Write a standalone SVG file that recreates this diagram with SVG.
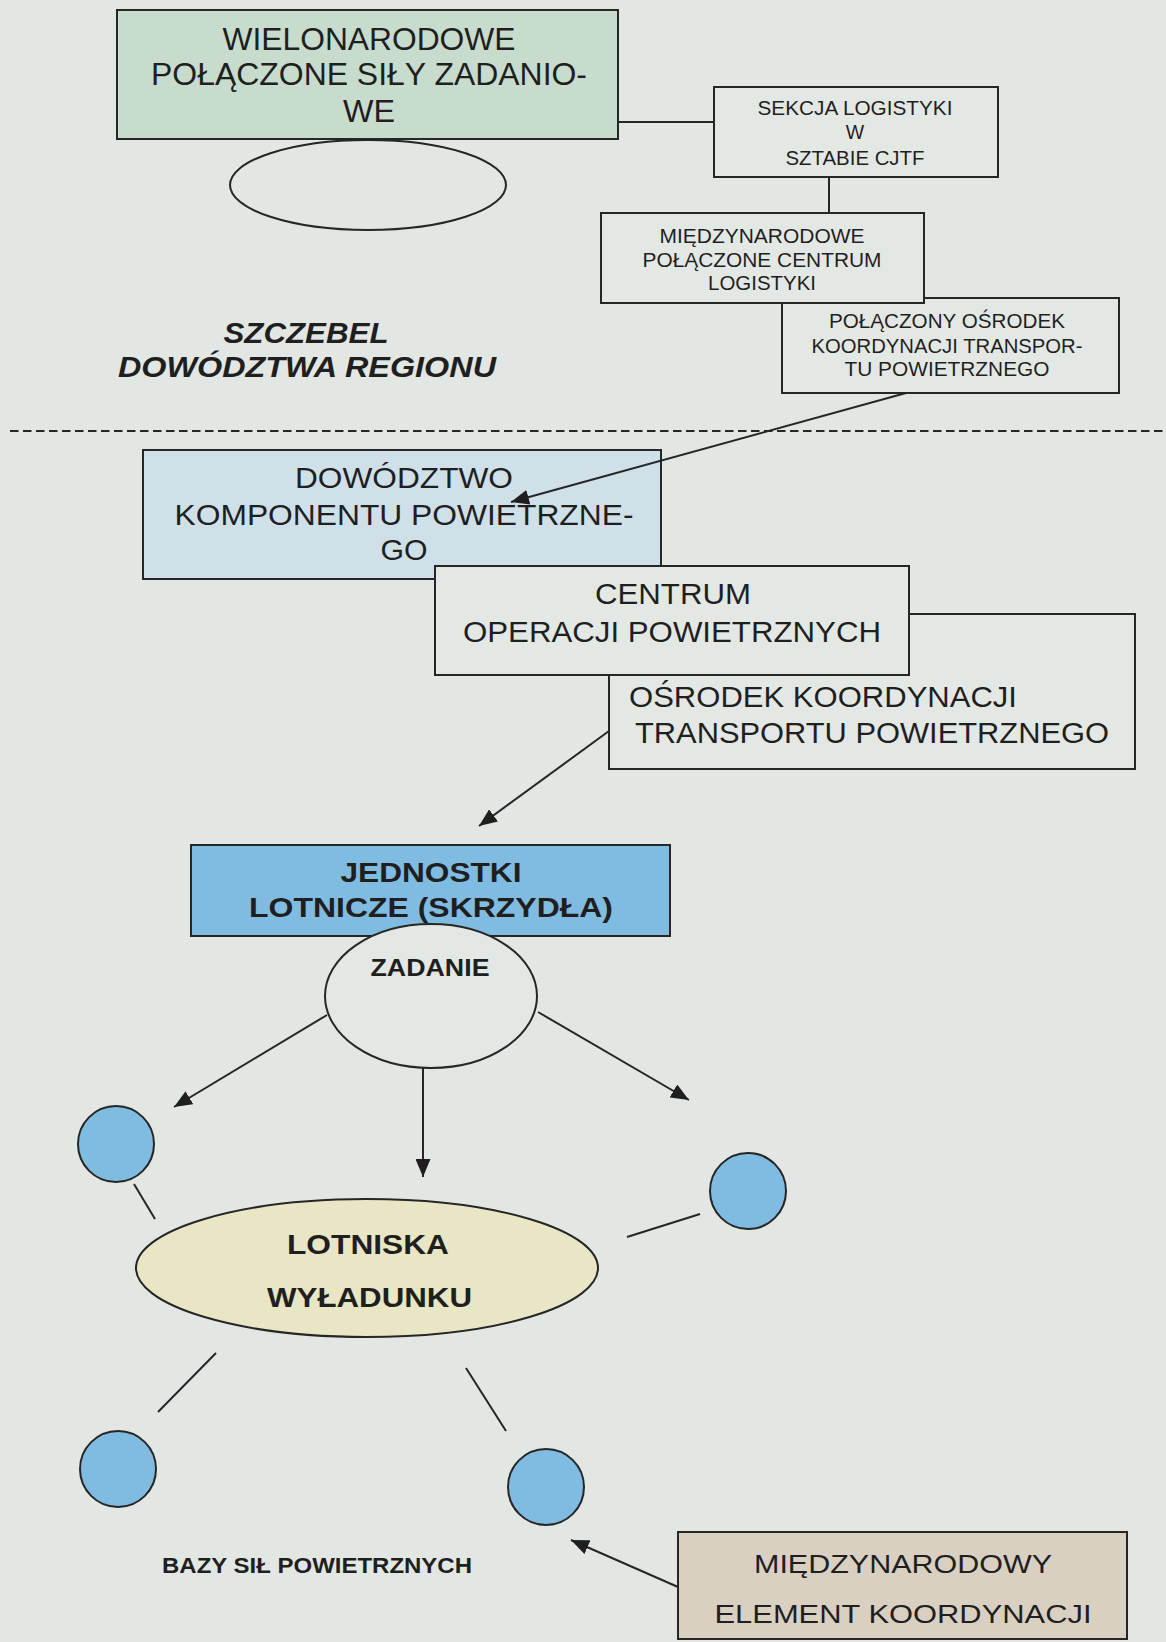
<svg xmlns="http://www.w3.org/2000/svg" width="1166" height="1642" viewBox="0 0 1166 1642">
  <defs>
    <style>
      .page { fill: #e3e7e4; }
      .box { fill: #e4e8e5; stroke: #262626; stroke-width: 2; }
      .green { fill: #c8dccd; }
      .paleblue { fill: #cfe0e9; }
      .blue { fill: #80bce1; }
      .yellow { fill: #e8e6c4; }
      .tan { fill: #d9d0c2; }
      .link { stroke: #262626; stroke-width: 2; fill: none; }
      .t { font-family: "Liberation Sans", Arial, sans-serif; fill: #1f1f1f; text-anchor: middle; }
      .ts { font-family: "Liberation Sans", Arial, sans-serif; fill: #1f1f1f; text-anchor: start; }
      .b { font-weight: bold; }
      .bi { font-weight: bold; font-style: italic; }
    </style>
    <marker id="arrow" markerUnits="userSpaceOnUse" markerWidth="18" markerHeight="15" refX="18" refY="7.5" orient="auto">
      <path d="M0,0 L18,7.5 L0,15 Z" fill="#1f1f1f"/>
    </marker>
  </defs>

  <!-- paper -->
  <rect class="page" x="0" y="0" width="1166" height="1642"/>

  <!-- boundary between command levels -->
  <line id="level-divider" x1="10" y1="431" x2="1166" y2="431" stroke="#262626" stroke-width="2" stroke-dasharray="8.5 4.5"/>

  <g id="label-region-level">
    <text class="t bi" x="306" y="343" font-size="29" textLength="165" lengthAdjust="spacingAndGlyphs">SZCZEBEL</text>
    <text class="t bi" x="307" y="377" font-size="29" textLength="378" lengthAdjust="spacingAndGlyphs">DOWÓDZTWA REGIONU</text>
  </g>

  <!-- nodes -->
  <g id="node-cjtf">
    <rect class="box green" x="117" y="10" width="501" height="129"/>
    <text class="t" x="369" y="50" font-size="32" textLength="293" lengthAdjust="spacingAndGlyphs">WIELONARODOWE</text>
    <text class="t" x="369" y="85" font-size="32" textLength="436" lengthAdjust="spacingAndGlyphs">POŁĄCZONE SIŁY ZADANIO-</text>
    <text class="t" x="369" y="122" font-size="32" textLength="52" lengthAdjust="spacingAndGlyphs">WE</text>
  </g>

  <g id="node-cjtf-ellipse">
    <ellipse cx="368" cy="185" rx="138" ry="45" fill="none" stroke="#262626" stroke-width="2"/>
  </g>

  <g id="node-logistics-section">
    <rect class="box" x="714" y="87" width="284" height="90"/>
    <text class="t" x="855" y="115" font-size="19.5" textLength="195" lengthAdjust="spacingAndGlyphs">SEKCJA LOGISTYKI</text>
    <text class="t" x="855" y="139" font-size="19.5">W</text>
    <text class="t" x="855" y="165" font-size="19.5" textLength="139" lengthAdjust="spacingAndGlyphs">SZTABIE CJTF</text>
  </g>

  <g id="node-jaccc">
    <rect class="box" x="782" y="298" width="337" height="95"/>
    <text class="t" x="947" y="328" font-size="20" textLength="236" lengthAdjust="spacingAndGlyphs">POŁĄCZONY OŚRODEK</text>
    <text class="t" x="947" y="353" font-size="20" textLength="271" lengthAdjust="spacingAndGlyphs">KOORDYNACJI TRANSPOR-</text>
    <text class="t" x="947" y="376" font-size="20" textLength="205" lengthAdjust="spacingAndGlyphs">TU POWIETRZNEGO</text>
  </g>

  <g id="node-mjlc">
    <rect class="box" x="601" y="213" width="323" height="90"/>
    <text class="t" x="762" y="243" font-size="20" textLength="205" lengthAdjust="spacingAndGlyphs">MIĘDZYNARODOWE</text>
    <text class="t" x="762" y="267" font-size="20" textLength="239" lengthAdjust="spacingAndGlyphs">POŁĄCZONE CENTRUM</text>
    <text class="t" x="762" y="290" font-size="20" textLength="108" lengthAdjust="spacingAndGlyphs">LOGISTYKI</text>
  </g>

  <g id="node-air-component">
    <rect class="box paleblue" x="143" y="450" width="518" height="129"/>
    <text class="t" x="404" y="488" font-size="30" textLength="218" lengthAdjust="spacingAndGlyphs">DOWÓDZTWO</text>
    <text class="t" x="404" y="525" font-size="30" textLength="459" lengthAdjust="spacingAndGlyphs">KOMPONENTU POWIETRZNE-</text>
    <text class="t" x="404" y="560" font-size="30" textLength="47" lengthAdjust="spacingAndGlyphs">GO</text>
  </g>

  <g id="node-airlift-coordination">
    <rect class="box" x="609" y="614" width="526" height="155"/>
    <text class="ts" x="629" y="707" font-size="30" textLength="388" lengthAdjust="spacingAndGlyphs">OŚRODEK KOORDYNACJI</text>
    <text class="ts" x="635" y="743" font-size="30" textLength="474" lengthAdjust="spacingAndGlyphs">TRANSPORTU POWIETRZNEGO</text>
  </g>

  <g id="node-air-operations">
    <rect class="box" x="435" y="566" width="474" height="109"/>
    <text class="t" x="673" y="604" font-size="30" textLength="156" lengthAdjust="spacingAndGlyphs">CENTRUM</text>
    <text class="t" x="672" y="642" font-size="30" textLength="418" lengthAdjust="spacingAndGlyphs">OPERACJI POWIETRZNYCH</text>
  </g>

  <g id="node-wings">
    <rect class="box blue" x="191" y="845" width="479" height="91"/>
    <text class="t b" x="431" y="882" font-size="28" textLength="181" lengthAdjust="spacingAndGlyphs">JEDNOSTKI</text>
    <text class="t b" x="431" y="917" font-size="28" textLength="364" lengthAdjust="spacingAndGlyphs">LOTNICZE (SKRZYDŁA)</text>
  </g>

  <g id="node-task">
    <ellipse class="box" cx="431" cy="996" rx="106" ry="72"/>
    <text class="t b" x="430" y="976" font-size="23" textLength="119" lengthAdjust="spacingAndGlyphs">ZADANIE</text>
  </g>

  <g id="node-base-1">
    <circle class="box blue" cx="116" cy="1144" r="38"/>
  </g>
  <g id="node-base-2">
    <circle class="box blue" cx="748" cy="1191" r="38"/>
  </g>

  <g id="node-offload-airfields">
    <ellipse class="box yellow" cx="367" cy="1268" rx="231" ry="69"/>
    <text class="t b" x="368" y="1254" font-size="27" textLength="162" lengthAdjust="spacingAndGlyphs">LOTNISKA</text>
    <text class="t b" x="369.5" y="1307" font-size="27" textLength="205" lengthAdjust="spacingAndGlyphs">WYŁADUNKU</text>
  </g>

  <g id="node-base-3">
    <circle class="box blue" cx="118" cy="1469" r="38"/>
  </g>
  <g id="node-base-4">
    <circle class="box blue" cx="546" cy="1487" r="38"/>
  </g>

  <g id="label-bases">
    <text class="t b" x="317" y="1573" font-size="22" textLength="310" lengthAdjust="spacingAndGlyphs">BAZY SIŁ POWIETRZNYCH</text>
  </g>

  <g id="node-coordination-element">
    <rect class="box tan" x="678" y="1532" width="449" height="107"/>
    <text class="t" x="903" y="1573" font-size="25.5" textLength="298" lengthAdjust="spacingAndGlyphs">MIĘDZYNARODOWY</text>
    <text class="t" x="903" y="1623" font-size="25.5" textLength="377" lengthAdjust="spacingAndGlyphs">ELEMENT KOORDYNACJI</text>
  </g>

  <!-- connectors -->
  <g id="connectors">
    <line class="link" x1="618" y1="122" x2="714" y2="122"/>
    <line class="link" x1="829" y1="177" x2="829" y2="213"/>
    <line class="link" x1="906" y1="393" x2="511" y2="502" marker-end="url(#arrow)"/>
    <line class="link" x1="609" y1="731" x2="479" y2="826" marker-end="url(#arrow)"/>
    <line class="link" x1="327" y1="1015" x2="174" y2="1107" marker-end="url(#arrow)"/>
    <line class="link" x1="423" y1="1068" x2="423" y2="1177" marker-end="url(#arrow)"/>
    <line class="link" x1="538" y1="1012" x2="689" y2="1100" marker-end="url(#arrow)"/>
    <line class="link" x1="134" y1="1184" x2="155" y2="1219"/>
    <line class="link" x1="627" y1="1237" x2="700" y2="1214"/>
    <line class="link" x1="216" y1="1353" x2="158" y2="1412"/>
    <line class="link" x1="466" y1="1368" x2="506" y2="1431"/>
    <line class="link" x1="678" y1="1587" x2="571" y2="1540" marker-end="url(#arrow)"/>
  </g>
</svg>
